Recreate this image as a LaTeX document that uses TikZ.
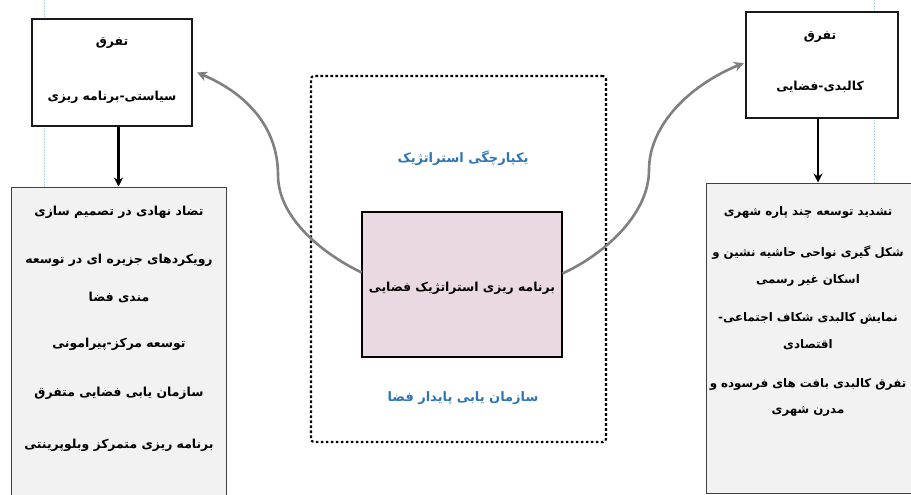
\documentclass[tikz,border=0pt]{standalone}
\usepackage{fontspec}
\usetikzlibrary{arrows.meta,calc}
\newfontfamily\arabicfont[Script=Arabic]{DejaVu Sans}
\TeXXeTstate=1
\newcommand{\fatxt}[1]{\beginR #1\endR}
\definecolor{pinkfill}{RGB}{234,217,227}
\definecolor{boxgray}{RGB}{242,242,242}
\definecolor{txtblue}{RGB}{46,117,182}
\definecolor{curvegray}{RGB}{128,128,128}
\definecolor{guideblue}{RGB}{175,205,240}
\begin{document}
\begin{tikzpicture}[x=1pt,y=-1pt,
  hbox/.style={draw=black!90,line width=2.2pt,fill=white,inner sep=0pt},
  listbox/.style={draw=black!75,line width=1pt,fill=boxgray,inner sep=0pt},
  mainbox/.style={draw=black,line width=2.8pt,fill=pinkfill,inner sep=0pt},
  framebox/.style={draw=black,line width=2.1pt,dash pattern=on 2.6pt off 2.4pt,rounded corners=3pt,inner sep=0pt},
  ptxt/.style={font=\arabicfont\bfseries\fontsize{12.4}{14}\selectfont,inner sep=0pt,text=black},
  rtxt/.style={font=\arabicfont\bfseries\fontsize{11.8}{14}\selectfont,inner sep=0pt,text=black},
  btxt/.style={font=\arabicfont\bfseries\fontsize{13}{15}\selectfont,inner sep=0pt,text=txtblue},
  downarrow/.style={draw=black,line width=2.4pt,-{Stealth[length=9pt,width=9pt]}},
  curvearrow/.style={draw=curvegray,line width=2.6pt,-{Stealth[length=10pt,width=10pt]}},
  guide/.style={draw=guideblue,line width=0.6pt,densely dotted}
]
\clip (0,0) rectangle (911,495);
\fill[white] (0,0) rectangle (911,495);
% guide lines
\coordinate (g1a) at (44,0); \coordinate (g1b) at (44,187);
\coordinate (g2a) at (874,0); \coordinate (g2b) at (874,183);
\draw[guide] (g1a) -- (g1b);
\draw[guide] (g2a) -- (g2b);
% boxes
\node[hbox,minimum width=160pt,minimum height=107pt] (tl) at (112,72.5) {};
\node[hbox,minimum width=152pt,minimum height=106pt] (tr) at (822,65) {};
\node[listbox,minimum width=215pt,minimum height=330pt] (ll) at (118.5,352) {};
\node[listbox,minimum width=224pt,minimum height=310pt] (lr) at (818,338) {};
\node[framebox,minimum width=295pt,minimum height=366pt] (frame) at (458.5,259) {};
\node[mainbox,minimum width=200pt,minimum height=145pt] (pink) at (462,284.5) {};
% texts top boxes
\node[ptxt] (tl1) at (112,43) {\fatxt{تفرق}};
\node[ptxt] (tl2) at (112,97) {\fatxt{سیاستی-برنامه ریزی}};
\node[ptxt] (tr1) at (820,37) {\fatxt{تفرق}};
\node[ptxt] (tr2) at (820,87) {\fatxt{کالبدی-فضایی}};
% left list
\node[ptxt] (a1) at (119,212) {\fatxt{تضاد نهادی در تصمیم سازی}};
\node[ptxt] (a2) at (119,260) {\fatxt{رویکردهای جزیره ای در توسعه}};
\node[ptxt] (a3) at (119,297) {\fatxt{مندی فضا}};
\node[ptxt] (a4) at (119,344) {\fatxt{توسعه مرکز-پیرامونی}};
\node[ptxt] (a5) at (119,393) {\fatxt{سازمان یابی فضایی متفرق}};
\node[ptxt] (a6) at (119,445) {\fatxt{برنامه ریزی متمرکز وبلوپرینتی}};
% right list
\node[rtxt] (b1) at (808,212) {\fatxt{تشدید توسعه چند پاره شهری}};
\node[rtxt] (b2) at (808,253) {\fatxt{شکل گیری نواحی حاشیه نشین و}};
\node[rtxt] (b3) at (808,280) {\fatxt{اسکان غیر رسمی}};
\node[rtxt] (b4) at (808,318) {\fatxt{نمایش کالبدی شکاف اجتماعی-}};
\node[rtxt] (b5) at (808,345) {\fatxt{اقتصادی}};
\node[rtxt] (b6) at (808,384) {\fatxt{تفرق کالبدی بافت های فرسوده و}};
\node[rtxt] (b7) at (808,411) {\fatxt{مدرن شهری}};
% center texts
\node[btxt] (c1) at (463,158) {\fatxt{یکپارچگی استراتژیک}};
\node[ptxt] (c2) at (462,288) {\fatxt{برنامه ریزی استراتژیک فضایی}};
\node[btxt] (c3) at (463,398) {\fatxt{سازمان یابی پایدار فضا}};
% down arrows
\draw[downarrow] (tl.south -| ll.north) -- (ll.north);
\draw[downarrow] (tr.south -| lr.north) -- (lr.north);
% curved arrows
\coordinate (ls) at ($(pink.west)+(1,-12)$);
\coordinate (lm) at (278,175);
\coordinate (le) at ($(tl.east)+(4,0)$);
\draw[curvearrow] (ls) .. controls (323,254) and (278,218) .. (lm)
   .. controls (278,130) and (250,95) .. (le);
\coordinate (rs) at ($(pink.east)+(-1,-11)$);
\coordinate (rm) at (649,170);
\coordinate (re) at ($(tr.west)+(-1,-2)$);
\draw[curvearrow] (rs) .. controls (603,255) and (649,215) .. (rm)
   .. controls (649,125) and (690,85) .. (re);
\end{tikzpicture}
\end{document}
